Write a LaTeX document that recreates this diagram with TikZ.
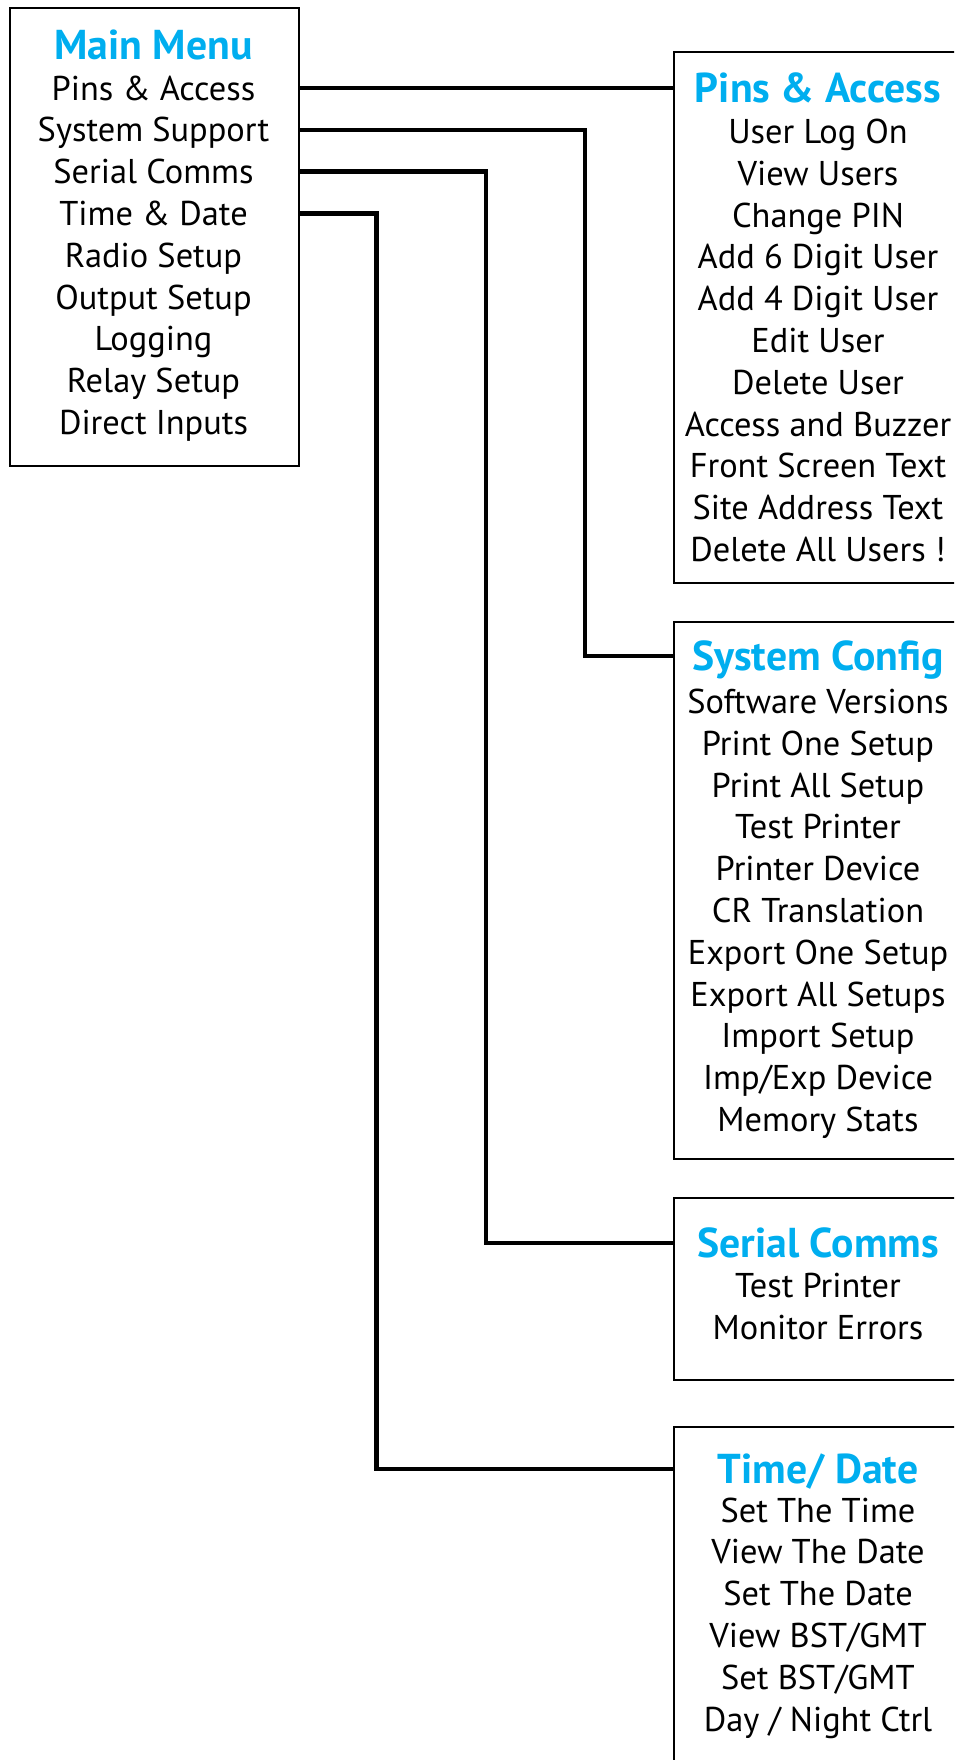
\documentclass[tikz,border=0pt]{standalone}
\usepackage{fontspec}
\setmainfont{PT Sans}
\usepackage{tikz}

\definecolor{menublue}{RGB}{0,174,239}
\tikzset{
  menubox/.style={draw, line width=1.5pt, anchor=north west, inner sep=0pt},
  head/.style={text=menublue, font=\bfseries\fontsize{31.3}{37}\selectfont, inner sep=0pt, text height=21.5pt, text depth=0pt},
  entry/.style={font=\fontsize{25.8}{31}\selectfont, inner sep=0pt, text height=18pt, text depth=0pt},
  link/.style={line width=3.2pt}
}

\begin{document}
\begin{tikzpicture}[x=0.75pt,y=0.75pt,yscale=-1,xscale=1]
\useasboundingbox (0,0) rectangle (954,1760);
\clip (0,0) rectangle (954,1760);

%Shape: Rectangle [main menu]
\node [menubox, minimum width=216.75pt, minimum height=343.5pt] (main) at (9,7) {};
%Shape: Rectangle [pins]
\node [menubox, minimum width=217.5pt, minimum height=398.25pt] (pins) at (673,51) {};
%Shape: Rectangle [system config]
\node [menubox, minimum width=217.5pt, minimum height=402.75pt] (conf) at (673,621) {};
%Shape: Rectangle [serial comms]
\node [menubox, minimum width=217.5pt, minimum height=136.5pt] (serial) at (673,1197) {};
%Shape: Rectangle [time and date]
\node [menubox, minimum width=217.5pt, minimum height=300pt] (clock) at (673,1426) {};

% Text Node
\node [head] (mT) at (153.5,45) {Main Menu};
\node [entry] (m1) at (153.5,88) {Pins \& Access};
\node [entry] (m2) at (153.5,129.8) {System Support};
\node [entry] (m3) at (153.5,171.6) {Serial Comms};
\node [entry] (m4) at (153.5,213.4) {Time \& Date};
\node [entry] (m5) at (153.5,255.2) {Radio Setup};
\node [entry] (m6) at (153.5,297) {Output Setup};
\node [entry] (m7) at (153.5,338.8) {Logging};
\node [entry] (m8) at (153.5,380.6) {Relay Setup};
\node [entry] (m9) at (153.5,422.4) {Direct Inputs};

% Text Node
\node [head] (pT) at (818,88) {Pins \& Access};
\node [entry] (p1) at (818,131.5) {User Log On};
\node [entry] (p2) at (818,173.3) {View Users};
\node [entry] (p3) at (818,215.1) {Change PIN};
\node [entry] (p4) at (818,256.9) {Add 6 Digit User};
\node [entry] (p5) at (818,298.7) {Add 4 Digit User};
\node [entry] (p6) at (818,340.5) {Edit User};
\node [entry] (p7) at (818,382.3) {Delete User};
\node [entry] (p8) at (818,424.1) {Access and Buzzer};
\node [entry] (p9) at (818,465.9) {Front Screen Text};
\node [entry] (p10) at (818,507.7) {Site Address Text};
\node [entry] (p11) at (818,549.5) {Delete All Users !};

% Text Node
\node [head] (cT) at (818,656) {System Config};
\node [entry] (c1) at (818,701.5) {Software Versions};
\node [entry] (c2) at (818,743.3) {Print One Setup};
\node [entry] (c3) at (818,785.1) {Print All Setup};
\node [entry] (c4) at (818,826.9) {Test Printer};
\node [entry] (c5) at (818,868.7) {Printer Device};
\node [entry] (c6) at (818,910.5) {CR Translation};
\node [entry] (c7) at (818,952.3) {Export One Setup};
\node [entry] (c8) at (818,994.1) {Export All Setups};
\node [entry] (c9) at (818,1035.9) {Import Setup};
\node [entry] (c10) at (818,1077.7) {Imp/Exp Device};
\node [entry] (c11) at (818,1119.5) {Memory Stats};

% Text Node
\node [head] (sT) at (818,1243) {Serial Comms};
\node [entry] (s1) at (818,1285.5) {Test Printer};
\node [entry] (s2) at (818,1327.3) {Monitor Errors};

% Text Node
\node [head] (tT) at (818,1469) {Time/ Date};
\node [entry] (t1) at (818,1510) {Set The Time};
\node [entry] (t2) at (818,1551.8) {View The Date};
\node [entry] (t3) at (818,1593.6) {Set The Date};
\node [entry] (t4) at (818,1635.4) {View BST/GMT};
\node [entry] (t5) at (818,1677.2) {Set BST/GMT};
\node [entry] (t6) at (818,1719) {Day / Night Ctrl};

%Straight Lines
\coordinate (k2) at (585,0);
\coordinate (k3) at (486,0);
\coordinate (k4) at (376.5,0);
\draw [link] (main.east |- m1) -- (pins.west |- pT);
\draw [link] (main.east |- m2) -| (k2 |- cT) -- (conf.west |- cT);
\draw [link] (main.east |- m3) -| (k3 |- sT) -- (serial.west |- sT);
\draw [link] (main.east |- m4) -| (k4 |- tT) -- (clock.west |- tT);
\end{tikzpicture}
\end{document}
